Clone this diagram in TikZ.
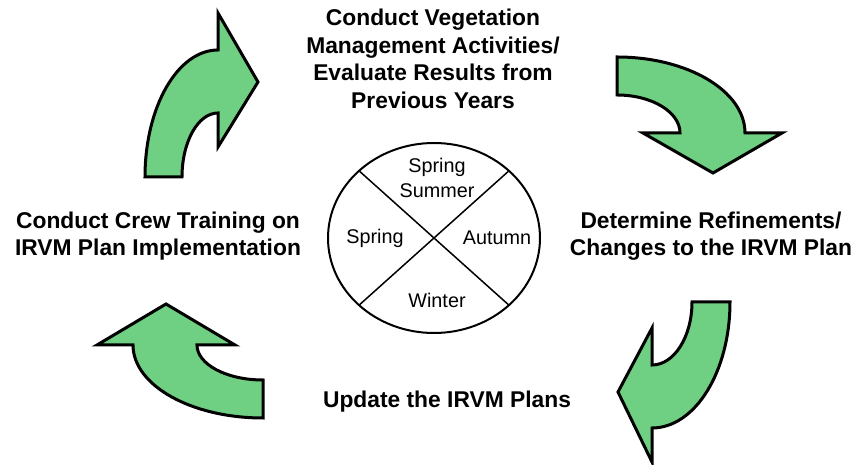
\documentclass[tikz,border=0pt]{standalone}
\usepackage{fontspec}
\setmainfont{Liberation Sans}
\usetikzlibrary{calc}
\definecolor{arrowgreen}{RGB}{111,207,130}
\tikzset{
  bigarrow/.style={draw=black, line width=3pt, fill=arrowgreen, line join=miter},
  steplabel/.style={font=\fontsize{22.8}{27.5}\selectfont\bfseries, align=center, inner sep=0pt},
  seasonlabel/.style={font=\fontsize{19.8}{25}\selectfont, align=center, inner sep=0pt},
  divider/.style={line width=1.5pt},
}
\begin{document}
\begin{tikzpicture}[x=1pt,y=1pt]
\useasboundingbox (0,0) rectangle (860,465);
% top-left arrow
\draw[bigarrow] (145,288) arc[start angle=180, end angle=90, x radius=73, y radius=127]
  -- (218,452) -- (258,383) -- (218,318) -- (218,352)
  arc[start angle=90, end angle=180, x radius=36, y radius=64] -- cycle;
% top-right arrow
\draw[bigarrow] (617,408) arc[start angle=90, end angle=0, x radius=128, y radius=76]
  -- (782,332) -- (713,292) -- (643,332) -- (680,332)
  arc[start angle=0, end angle=90, x radius=63, y radius=38] -- cycle;
% bottom-right arrow
\draw[bigarrow] (730,163) arc[start angle=0, end angle=-90, x radius=78, y radius=126]
  -- (652,3) -- (618,73) -- (652,137) -- (652,100)
  arc[start angle=-90, end angle=0, x radius=40, y radius=63] -- cycle;
% bottom-left arrow
\draw[bigarrow] (263,47) arc[start angle=-90, end angle=-180, x radius=130, y radius=73]
  -- (97,120) -- (166,161) -- (235,120) -- (197,120)
  arc[start angle=180, end angle=270, x radius=66, y radius=35] -- cycle;
% labels
\node[steplabel] (top) at (433,406) {Conduct Vegetation\\Management Activities/\\Evaluate Results from\\Previous Years};
\node[steplabel] (right) at (711,229) {Determine Refinements/\\Changes to the IRVM Plan};
\node[steplabel] (bottom) at (447,63) {Update the IRVM Plans};
\node[steplabel] (left) at (158,229) {Conduct Crew Training on\\IRVM Plan Implementation};
% season ellipse
\coordinate (c) at (434,227);
\draw[line width=2pt] (c) ellipse[x radius=106, y radius=95];
\coordinate (ne) at ($(c)+(45:106 and 95)$);
\coordinate (nw) at ($(c)+(135:106 and 95)$);
\coordinate (sw) at ($(c)+(225:106 and 95)$);
\coordinate (se) at ($(c)+(315:106 and 95)$);
\draw[divider] (nw) -- (se);
\draw[divider] (ne) -- (sw);
\node[seasonlabel] (su) at (437,287) {Spring\\Summer};
\node[seasonlabel] (sp) at (375,227) {Spring};
\node[seasonlabel] (au) at (497,227) {Autumn};
\node[seasonlabel] (wi) at (437,165) {Winter};
\end{tikzpicture}
\end{document}
